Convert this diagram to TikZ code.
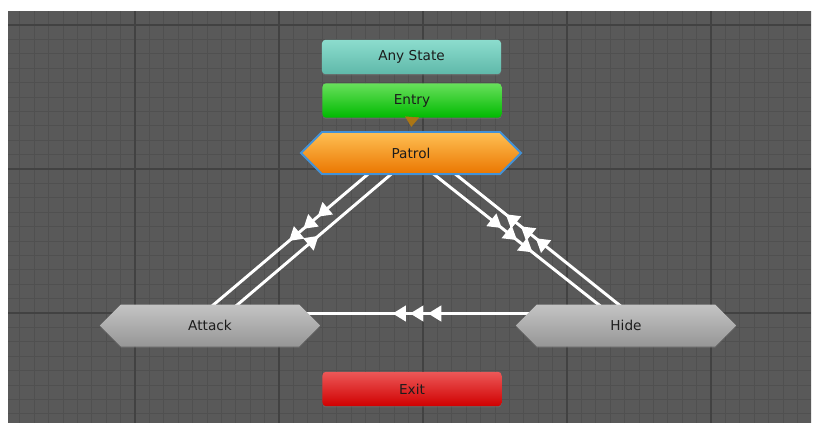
\documentclass[tikz,border=0pt]{standalone}
\usepackage{fontspec}
\setmainfont{DejaVu Sans}
\usetikzlibrary{arrows.meta,calc,decorations.markings,shapes.symbols,shadows}
\definecolor{canvas}{RGB}{89,89,89}
\definecolor{minorgrid}{RGB}{80,80,80}
\definecolor{majorgrid}{RGB}{66,66,66}
\definecolor{anytop}{RGB}{140,220,205}
\definecolor{anybot}{RGB}{95,185,170}
\definecolor{entrytop}{RGB}{104,224,92}
\definecolor{entrybot}{RGB}{0,186,0}
\definecolor{patroltop}{RGB}{255,192,84}
\definecolor{patrolbot}{RGB}{234,118,0}
\definecolor{selected}{RGB}{66,146,216}
\definecolor{idletop}{RGB}{196,196,196}
\definecolor{idlebot}{RGB}{150,150,150}
\definecolor{exittop}{RGB}{236,88,88}
\definecolor{exitbot}{RGB}{208,0,0}
\definecolor{entrylink}{RGB}{172,118,20}
\definecolor{labeltext}{RGB}{28,28,28}
\pgfdeclarelayer{gridlayer}
\pgfdeclarelayer{linklayer}
\pgfsetlayers{gridlayer,linklayer,main}
\tikzset{trans/.tip={Triangle[length=9.5pt,width=11pt]}}

\begin{document}
\begin{tikzpicture}[x=0.025cm,y=-0.025cm,
		font=\fontsize{9.7}{11}\selectfont, text=labeltext,
		lift/.style={drop shadow={opacity=0.35, shadow xshift=0pt, shadow yshift=-0.9pt}},
		box/.style={rectangle, rounded corners=2.5pt, minimum width=4.475cm, minimum height=0.86cm, inner sep=0pt, lift},
		hexa/.style={signal, signal to=west and east, signal pointer angle=90, minimum width=5.5cm, minimum height=1.05cm, inner sep=0pt, lift},
		link/.style={white, line width=2.1pt},
		onetip/.style={postaction={decorate}, decoration={markings, mark=at position #1 with {\arrow{trans}}}},
		threetips/.style n args={3}{postaction={decorate}, decoration={markings,
				mark=at position #1 with {\arrow{trans}},
				mark=at position #2 with {\arrow{trans}},
				mark=at position #3 with {\arrow{trans}}}}]
	%%%%% CANVAS %%%%%
	\useasboundingbox (0,0) rectangle (816,423);
	\begin{pgfonlayer}{gridlayer}
		\fill[canvas] (8,11) rectangle (811,423);
		\begin{scope}
			\clip (8,11) rectangle (811,423);
			\foreach \i in {-8,...,47}
				\draw[minorgrid, line width=0.7pt] (135+14.4*\i,11) -- (135+14.4*\i,423);
			\foreach \j in {-1,...,28}
				\draw[minorgrid, line width=0.7pt] (8,25+14.4*\j) -- (811,25+14.4*\j);
			\foreach \i in {0,...,4}
				\draw[majorgrid, line width=1pt] (135+144*\i,11) -- (135+144*\i,423);
			\foreach \j in {0,...,2}
				\draw[majorgrid, line width=1pt] (8,25+144*\j) -- (811,25+144*\j);
		\end{scope}
	\end{pgfonlayer}
	
	%%%%% STATES %%%%%
	\node[box, top color=anytop, bottom color=anybot] (any) at (411.5,57) {Any State};
	\node[box, top color=entrytop, bottom color=entrybot] (entry) at (412,100.5) {Entry};
	\node[hexa, top color=patroltop, bottom color=patrolbot, draw=selected, line width=1.4pt] (patrol) at (411,153) {Patrol};
	\node[hexa, top color=idletop, bottom color=idlebot] (attack) at (210,325.5) {Attack};
	\node[hexa, top color=idletop, bottom color=idlebot] (hide) at (626,325.5) {Hide};
	\node[box, top color=exittop, bottom color=exitbot] (exit) at (412,389) {Exit};
	
	%%%%% TRANSITIONS %%%%%
	\draw[entrylink, line width=0.4pt, -{Triangle[length=7pt,width=10pt]}, shorten >=3pt] (entry.south) -- (patrol.north);
	\begin{pgfonlayer}{linklayer}
		\draw[link, threetips={0.37}{0.44}{0.51}] ($(patrol)+(-18,0)$) -- ($(attack)+(-21,0)$);
		\draw[link, onetip=0.52] ($(attack)+(3,0)$) -- ($(patrol)+(5,0)$);
		\draw[link, threetips={0.435}{0.505}{0.576}] ($(patrol)+(-4,0)$) -- ($(hide)+(-1,0)$);
		\draw[link, threetips={0.506}{0.575}{0.645}] ($(hide)+(19,0)$) -- ($(patrol)+(18,0)$);
		\draw[link, threetips={0.476}{0.519}{0.561}] ($(hide)+(0,-12)$) -- ($(attack)+(0,-12)$);
	\end{pgfonlayer}
\end{tikzpicture}
\end{document}
